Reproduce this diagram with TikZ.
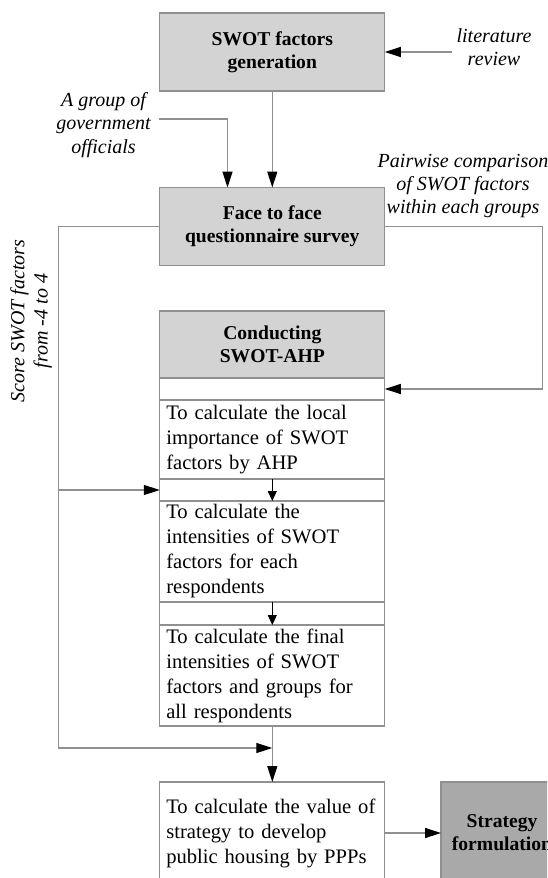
\documentclass[tikz,border=0pt]{standalone}
\usepackage{fontspec}
\setmainfont{Liberation Serif}
\usepackage{tikz}
\usetikzlibrary{arrows.meta,calc,positioning}
\definecolor{boxgray}{HTML}{D3D3D3}
\definecolor{darkbox}{HTML}{A9A9A9}
\definecolor{edgegray}{HTML}{909090}
\tikzset{
every picture/.style={line cap=butt,line join=miter},
flow box/.style={
  draw=edgegray,
  line width=0.65pt,
  minimum width=112.5pt,
  inner sep=0pt,
  outer sep=0pt,
  align=center
},
head box/.style={flow box, fill=boxgray, font=\fontsize{9.8}{11.6}\selectfont\bfseries},
step box/.style={flow box, fill=white, text width=106pt, align=left, font=\fontsize{10.3}{12.5}\selectfont},
gap box/.style={flow box, fill=white},
side label/.style={font=\fontsize{10}{11.6}\selectfont\itshape, align=center, inner sep=2pt},
fig flow/.style={draw=edgegray, line width=0.65pt, -{Triangle[length=8pt,width=5pt,black]}},
small flow/.style={draw=black, line width=0.5pt, -{Triangle[length=5pt,width=4.5pt,black]}}
}
\begin{document}
\begin{tikzpicture}[x=0.5pt,y=-0.5pt]
\clip[use as bounding box] (0,0) rectangle (547,878);
\node[head box, minimum height=39pt] (gen) at (272.3,52) {SWOT factors\\generation};
\node[head box, minimum height=39pt] (survey) at (272.3,226.5) {Face to face\\questionnaire survey};
\node[head box, minimum height=33.5pt, anchor=north] (ahp) at (272.3,311) {Conducting\\SWOT-AHP};
\node[gap box, minimum height=11pt, anchor=north] (gapa) at (ahp.south) {};
\node[step box, minimum height=39.5pt, anchor=north] (stepa) at (gapa.south) {To calculate the local\\importance of SWOT\\factors by AHP};
\node[gap box, minimum height=11pt, anchor=north] (gapb) at (stepa.south) {};
\node[step box, minimum height=50.5pt, anchor=north] (stepb) at (gapb.south) {To calculate the\\intensities of SWOT\\factors for each\\respondents};
\node[gap box, minimum height=11.5pt, anchor=north] (gapc) at (stepb.south) {};
\node[step box, minimum height=50.5pt, anchor=north] (stepc) at (gapc.south) {To calculate the final\\intensities of SWOT\\factors and groups for\\all respondents};
\node[step box, minimum height=51pt, anchor=north] (value) at (272.3,782) {To calculate the value of\\strategy to develop\\public housing by PPPs};
\node[head box, fill=darkbox, minimum width=61pt, minimum height=51pt, anchor=north west] (strat) at (441,782) {Strategy\\formulation};
\node[side label] (litrev) at (494,47) {literature\\review};
\node[side label, inner sep=4pt] (officials) at (103.5,125) {A group of\\government\\officials};
\node[side label] (pairwise) at (463,186) {Pairwise comparison\\of SWOT factors\\within each groups};
\node[side label, rotate=90] (score) at (31,321) {Score SWOT factors\\from -4 to 4};
\coordinate (lbend) at (58.7,226.5);
\coordinate (rbend) at (542.7,226.5);
\coordinate (loopend) at (272.3,748);
\draw[fig flow] (litrev.west |- gen.east) -- (gen.east);
\draw[fig flow] (gen) -- (survey);
\draw[fig flow] ([yshift=3pt]officials.east) -| ($(survey.north)+(-44.8,0)$);
\draw[fig flow] (survey.east) -- (rbend) |- (gapa.east);
\draw[fig flow] (survey.west) -- (lbend) |- (loopend);
\draw[fig flow] (lbend |- gapb.west) -- (gapb.west);
\draw[small flow] (stepa) -- (stepb);
\draw[small flow] (stepb) -- (stepc);
\draw[fig flow] (stepc) -- (value);
\draw[fig flow] (value) -- (strat);
\end{tikzpicture}
\end{document}
